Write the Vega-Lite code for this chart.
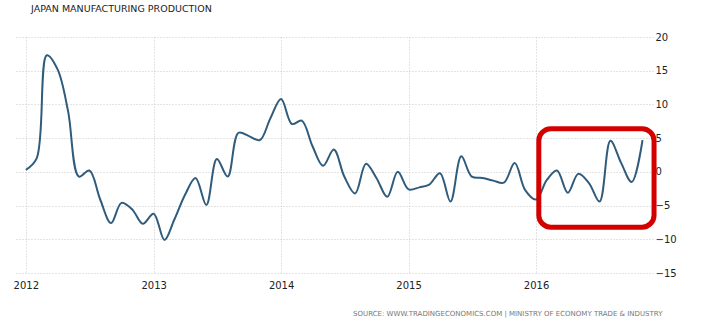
{
  "$schema": "https://vega.github.io/schema/vega-lite/v6.json",
  "width": 638,
  "height": 236,
  "autosize": {"type": "none"},
  "padding": {"left": 15, "top": 37, "right": 67, "bottom": 50},
  "background": "white",
  "title": {
    "text": "JAPAN MANUFACTURING PRODUCTION",
    "anchor": "start",
    "frame": "group",
    "font": "DejaVu Sans",
    "fontSize": 9.5,
    "fontWeight": "normal",
    "color": "#222222",
    "offset": 19,
    "dx": 16
  },
  "datasets": {
    "series": [
      {"date": "2012-01-01", "value": 0.3},
      {"date": "2012-02-01", "value": 2.0},
      {"date": "2012-03-01", "value": 17.3},
      {"date": "2012-04-01", "value": 15.2},
      {"date": "2012-05-01", "value": 9.0},
      {"date": "2012-06-01", "value": -0.7},
      {"date": "2012-07-01", "value": 0.2},
      {"date": "2012-08-01", "value": -4.1},
      {"date": "2012-09-01", "value": -7.6},
      {"date": "2012-10-01", "value": -4.6},
      {"date": "2012-11-01", "value": -5.6},
      {"date": "2012-12-01", "value": -7.7},
      {"date": "2013-01-01", "value": -6.2},
      {"date": "2013-02-01", "value": -10.1},
      {"date": "2013-03-01", "value": -7.1},
      {"date": "2013-04-01", "value": -3.4},
      {"date": "2013-05-01", "value": -0.9},
      {"date": "2013-06-01", "value": -4.9},
      {"date": "2013-07-01", "value": 1.9},
      {"date": "2013-08-01", "value": -0.7},
      {"date": "2013-09-01", "value": 5.8},
      {"date": "2013-10-01", "value": 5.3},
      {"date": "2013-11-01", "value": 4.7},
      {"date": "2013-12-01", "value": 7.9},
      {"date": "2014-01-01", "value": 10.8},
      {"date": "2014-02-01", "value": 7.1},
      {"date": "2014-03-01", "value": 7.6},
      {"date": "2014-04-01", "value": 3.8},
      {"date": "2014-05-01", "value": 0.9},
      {"date": "2014-06-01", "value": 3.3},
      {"date": "2014-07-01", "value": -0.7},
      {"date": "2014-08-01", "value": -3.2},
      {"date": "2014-09-01", "value": 1.2},
      {"date": "2014-10-01", "value": -0.9},
      {"date": "2014-11-01", "value": -3.7},
      {"date": "2014-12-01", "value": 0.0},
      {"date": "2015-01-01", "value": -2.6},
      {"date": "2015-02-01", "value": -2.3},
      {"date": "2015-03-01", "value": -1.9},
      {"date": "2015-04-01", "value": -0.2},
      {"date": "2015-05-01", "value": -4.4},
      {"date": "2015-06-01", "value": 2.3},
      {"date": "2015-07-01", "value": -0.7},
      {"date": "2015-08-01", "value": -0.9},
      {"date": "2015-09-01", "value": -1.3},
      {"date": "2015-10-01", "value": -1.6},
      {"date": "2015-11-01", "value": 1.3},
      {"date": "2015-12-01", "value": -2.7},
      {"date": "2016-01-01", "value": -4.1},
      {"date": "2016-02-01", "value": -1.2},
      {"date": "2016-03-01", "value": 0.2},
      {"date": "2016-04-01", "value": -3.1},
      {"date": "2016-05-01", "value": -0.3},
      {"date": "2016-06-01", "value": -1.7},
      {"date": "2016-07-01", "value": -4.4},
      {"date": "2016-08-01", "value": 4.6},
      {"date": "2016-09-01", "value": 1.3},
      {"date": "2016-10-01", "value": -1.5},
      {"date": "2016-11-01", "value": 4.7}
    ],
    "highlight": [
      {"start": "2016-01-09", "end": "2016-12-04", "low": -8.2, "high": 6.4}
    ]
  },
  "layer": [
    {
      "data": {"name": "series"},
      "mark": {"type": "line", "interpolate": "catmull-rom", "color": "#2f5b7c", "strokeWidth": 2},
      "encoding": {
        "x": {
          "field": "date",
          "type": "temporal",
          "scale": {
            "type": "utc",
            "domain": [
              {"year": 2011, "month": 12, "date": 1, "utc": true},
              {"year": 2016, "month": 12, "date": 1, "utc": true}
            ]
          },
          "axis": {
            "title": "SOURCE: WWW.TRADINGECONOMICS.COM | MINISTRY OF ECONOMY TRADE & INDUSTRY",
            "format": "%Y",
            "tickCount": {"interval": "year", "step": 1}
          }
        },
        "y": {
          "field": "value",
          "type": "quantitative",
          "scale": {"domain": [-15, 20], "nice": false, "zero": false},
          "axis": {
            "orient": "right",
            "title": null,
            "values": [-15, -10, -5, 0, 5, 10, 15, 20],
            "labelOverlap": false
          }
        }
      }
    },
    {
      "data": {"name": "highlight"},
      "mark": {"type": "rect", "filled": false, "stroke": "#d40000", "strokeWidth": 5, "cornerRadius": 12, "clip": false},
      "encoding": {
        "x": {
          "field": "start",
          "type": "temporal",
          "axis": {
            "title": "SOURCE: WWW.TRADINGECONOMICS.COM | MINISTRY OF ECONOMY TRADE & INDUSTRY",
            "format": "%Y",
            "tickCount": {"interval": "year", "step": 1}
          }
        },
        "x2": {"field": "end"},
        "y": {
          "field": "low",
          "type": "quantitative",
          "axis": {
            "orient": "right",
            "title": null,
            "values": [-15, -10, -5, 0, 5, 10, 15, 20],
            "labelOverlap": false
          }
        },
        "y2": {"field": "high"}
      }
    }
  ],
  "config": {
    "view": {"stroke": null},
    "axisX": {
      "titleFont": "DejaVu Sans",
      "titleFontSize": 7,
      "titleFontWeight": "normal",
      "titleColor": "#777777",
      "titleAnchor": "end",
      "titleAlign": "right",
      "titleBaseline": "middle",
      "titleX": 647,
      "titleY": 40,
      "labelFont": "DejaVu Sans",
      "labelFontSize": 10,
      "labelColor": "#222222",
      "labelPadding": 7,
      "labelFlush": false,
      "labelOverlap": false,
      "domain": false,
      "ticks": false,
      "grid": true,
      "gridColor": "#c8c8c8",
      "gridDash": [1, 2],
      "gridWidth": 1
    },
    "axisY": {
      "labelFont": "DejaVu Sans",
      "labelFontSize": 10,
      "labelColor": "#222222",
      "labelAlign": "left",
      "labelBaseline": "middle",
      "labelPadding": 2,
      "labelOverlap": false,
      "labelBound": false,
      "domain": false,
      "ticks": false,
      "grid": true,
      "gridColor": "#c8c8c8",
      "gridDash": [1, 2],
      "gridWidth": 1
    }
  }
}
